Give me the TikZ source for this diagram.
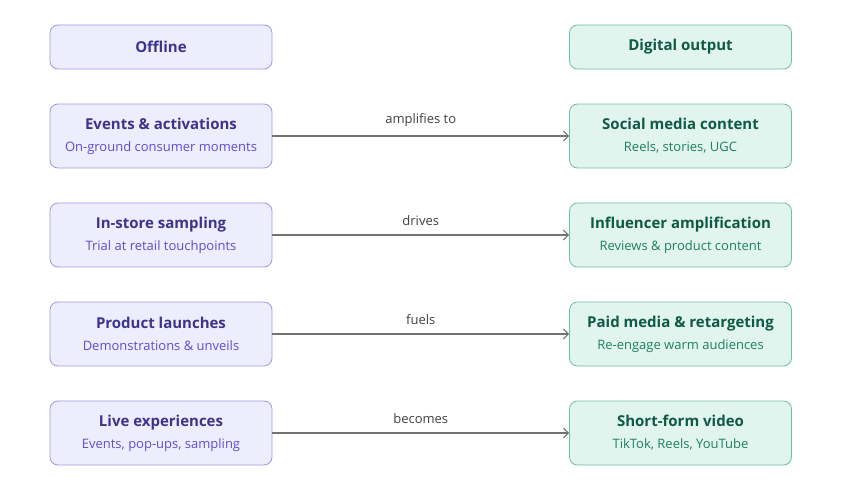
\documentclass[tikz,border=0pt]{standalone}
\usepackage{fontspec}
\setmainfont{Open Sans}
\usetikzlibrary{arrows.meta}
\definecolor{pfill}{HTML}{EEEDFD}
\definecolor{pdraw}{HTML}{9F97E6}
\definecolor{ptitle}{HTML}{3C3489}
\definecolor{psub}{HTML}{5A4FCF}
\definecolor{gfill}{HTML}{E1F5EE}
\definecolor{gdraw}{HTML}{6FBFA3}
\definecolor{gtitle}{HTML}{0F5A45}
\definecolor{gsub}{HTML}{1D8060}
\definecolor{arr}{HTML}{737373}
\newcommand\myttl{\fontsize{15}{22}\selectfont\bfseries}
\newcommand\mysub{\fontsize{13}{22}\selectfont\mdseries}
\begin{document}
\begin{tikzpicture}[x=1pt,y=-1pt,
 box/.style={rounded corners=8pt,line width=0.8pt,minimum width=222pt,align=center,inner sep=0pt},
 off/.style={box,fill=pfill,draw=pdraw,text=ptitle},
 dig/.style={box,fill=gfill,draw=gdraw,text=gtitle},
 hdr/.style={minimum height=44pt,font=\fontsize{15}{18}\selectfont\bfseries},
 row/.style={minimum height=64pt,font=\fontsize{13}{22}\selectfont},
 con/.style={draw=arr,line width=1.1pt,-{Straight Barb[length=5pt,width=10pt]}},
 lab/.style={font=\fontsize{13}{16}\selectfont,text=black!75,above=5pt}]
\useasboundingbox (0,0) rectangle (841,495);
\node[off,hdr] (h1) at (161,47) {Offline};
\node[dig,hdr] (h2) at (680.5,47) {Digital output};
\foreach \i/\y/\a/\b/\c/\d/\l in {
 1/136/Events \& activations/On-ground consumer moments/Social media content/{Reels, stories, UGC}/amplifies to,
 2/235/In-store sampling/Trial at retail touchpoints/Influencer amplification/Reviews \& product content/drives,
 3/334/Product launches/Demonstrations \& unveils/Paid media \& retargeting/Re-engage warm audiences/fuels,
 4/433/Live experiences/{Events, pop-ups, sampling}/Short-form video/{TikTok, Reels, YouTube}/becomes}{
 \node[off,row] (o\i) at (161,\y) {{\myttl\a}\\{\mysub\color{psub}\b}};
 \node[dig,row] (d\i) at (680.5,\y) {{\myttl\c}\\{\mysub\color{gsub}\d}};
 \draw[con] (o\i) -- node[lab]{\l} (d\i);
}
\end{tikzpicture}
\end{document}
